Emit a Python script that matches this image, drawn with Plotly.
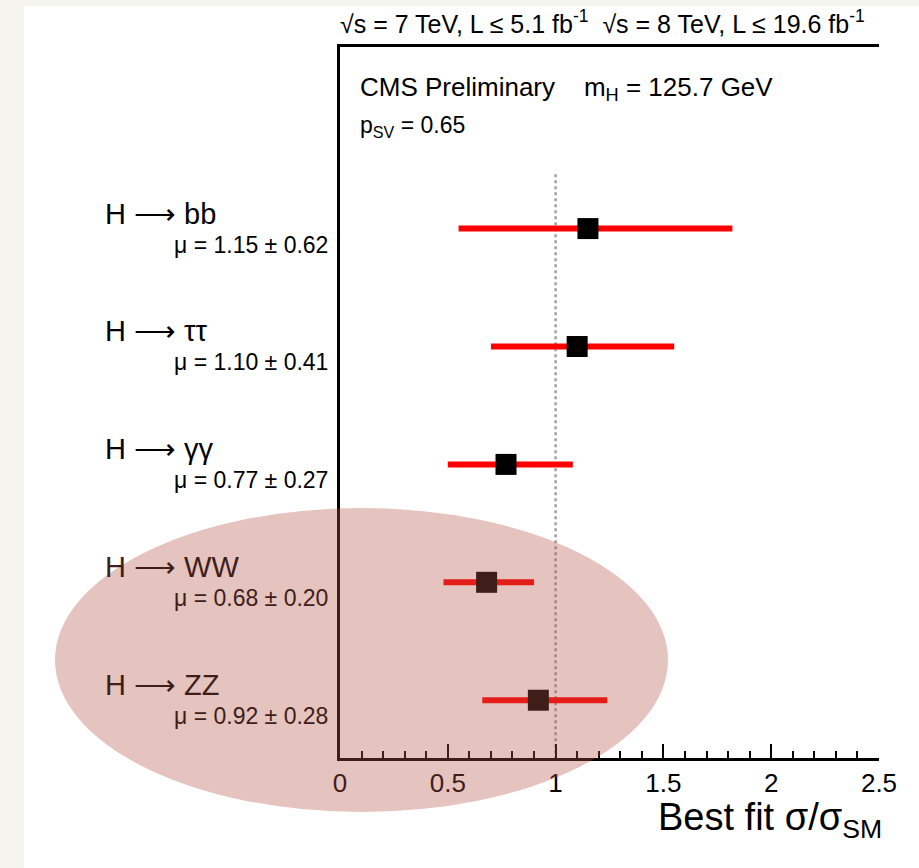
import plotly.graph_objects as go

channels = ["H ⟶ bb", "H ⟶ ττ", "H ⟶ γγ", "H ⟶ WW", "H ⟶ ZZ"]
mu_labels = ["μ = 1.15 ± 0.62", "μ = 1.10 ± 0.41", "μ = 0.77 ± 0.27",
             "μ = 0.68 ± 0.20", "μ = 0.92 ± 0.28"]
best_fit = [1.15, 1.10, 0.77, 0.68, 0.92]
err_lo = [0.60, 0.40, 0.27, 0.20, 0.26]
err_hi = [0.67, 0.45, 0.31, 0.22, 0.32]
ypos = [5, 4, 3, 2, 1]
x_ticks = [0, 0.5, 1, 1.5, 2, 2.5]
x_tick_text = ["0", "0.5", "1", "1.5", "2", "2.5"]
sm_value = 1.0

W, H = 919, 868
L, R, T, B = 340, 40, 47, 110
pw, ph = W - L - R, H - T - B

def px_to_paper_x(px):
    return (px - L) / pw

def px_to_paper_y(py):
    return (H - B - py) / ph

FONT = "Liberation Sans, Arial, sans-serif"
ell_rgb = (181, 84, 69)
ell_a = 0.35
tint = "rgb(%d,%d,%d)" % tuple(int(c * ell_a) for c in ell_rgb)

fig = go.Figure()

# SM reference dotted line
fig.add_trace(go.Scatter(
    x=[sm_value, sm_value], y=[0.5, 5.48], mode="lines",
    line=dict(color="#a0a0a0", width=2.5, dash="dot"),
    hoverinfo="skip", showlegend=False))

# best-fit points with error bars
fig.add_trace(go.Scatter(
    x=best_fit, y=ypos, mode="markers",
    marker=dict(symbol="square", size=21, color="black"),
    error_x=dict(type="data", symmetric=False, array=err_hi, arrayminus=err_lo,
                 color="#ff0000", thickness=6, width=0),
    showlegend=False))

shapes = [
    dict(type="rect", xref="paper", yref="paper",
         x0=px_to_paper_x(24), x1=px_to_paper_x(W + 5),
         y0=px_to_paper_y(H + 5), y1=px_to_paper_y(6),
         fillcolor="white", line=dict(width=0), layer="below"),
    dict(type="circle", xref="paper", yref="paper",
         x0=px_to_paper_x(55), x1=px_to_paper_x(668),
         y0=px_to_paper_y(812), y1=px_to_paper_y(508),
         fillcolor="rgba(%d,%d,%d,%.2f)" % (*ell_rgb, ell_a),
         line=dict(width=0), layer="above"),
]

annotations = []
for ch, mu, y in zip(channels, mu_labels, ypos):
    col = tint if y <= 2 else "black"
    annotations.append(dict(
        text=ch, xref="paper", yref="y", x=px_to_paper_x(103), y=y,
        xanchor="left", yanchor="middle", yshift=15, showarrow=False,
        font=dict(family=FONT, size=29, color=col)))
    annotations.append(dict(
        text=mu, xref="paper", yref="y", x=px_to_paper_x(330), y=y,
        xanchor="right", yanchor="middle", yshift=-16, showarrow=False,
        font=dict(family=FONT, size=23, color=col)))

annotations += [
    dict(text="√s = 7 TeV, L ≤ 5.1 fb<sup>-1</sup>  √s = 8 TeV, L ≤ 19.6 fb<sup>-1</sup>",
         xref="paper", yref="paper", x=px_to_paper_x(338), y=px_to_paper_y(22),
         xanchor="left", yanchor="middle", showarrow=False,
         font=dict(family=FONT, size=25, color="black")),
    dict(text="CMS Preliminary    m<sub>H</sub> = 125.7 GeV",
         xref="paper", yref="paper", x=px_to_paper_x(358), y=px_to_paper_y(88),
         xanchor="left", yanchor="middle", showarrow=False,
         font=dict(family=FONT, size=26, color="black")),
    dict(text="p<sub>SV</sub> = 0.65",
         xref="paper", yref="paper", x=px_to_paper_x(358), y=px_to_paper_y(126),
         xanchor="left", yanchor="middle", showarrow=False,
         font=dict(family=FONT, size=23, color="black")),
    dict(text="Best fit σ/σ<sub>SM</sub>",
         xref="paper", yref="paper", x=px_to_paper_x(884), y=px_to_paper_y(820),
         xanchor="right", yanchor="middle", showarrow=False,
         font=dict(family=FONT, size=38, color="black")),
]

fig.update_layout(
    width=W, height=H,
    margin=dict(l=L, r=R, t=T, b=B),
    paper_bgcolor="#f5f3ee", plot_bgcolor="rgba(0,0,0,0)",
    shapes=shapes, annotations=annotations,
    xaxis=dict(range=[0, 2.5], tickvals=x_ticks, ticktext=x_tick_text,
               ticks="inside", ticklen=14, tickwidth=1.5, tickcolor="black",
               minor=dict(dtick=0.1, ticks="inside", ticklen=7, tickwidth=1.5, tickcolor="black"),
               showline=True, linewidth=2.5, linecolor="black", mirror=True,
               showgrid=False, zeroline=False,
               tickfont=dict(family=FONT, size=26, color="black")),
    yaxis=dict(range=[0.51, 6.54], showticklabels=False, ticks="",
               showline=True, linewidth=2.5, linecolor="black",
               showgrid=False, zeroline=False),
)

fig.write_html("out.html")
